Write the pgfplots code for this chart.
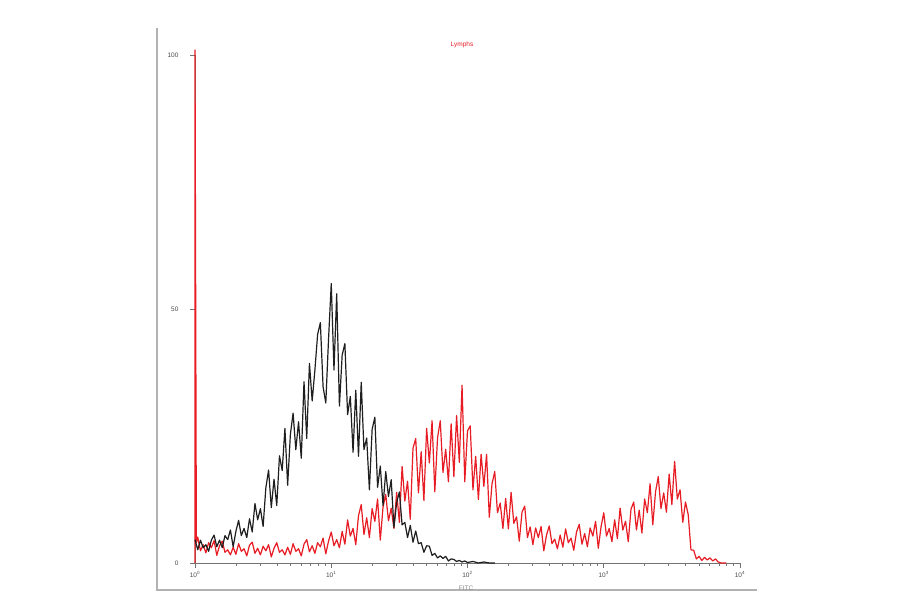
\documentclass[border=0pt]{standalone}
\usepackage{pgfplots}
\pgfplotsset{compat=1.18}
\usepackage{fontspec}
\setmainfont{Liberation Sans}

% black histogram (x = log10 of channel, y = % of max)
\newcommand{\blackdata}{
(0.00,4.6) (0.02,2.6) (0.04,4.5) (0.06,3.0) (0.08,3.6) (0.10,2.3) (0.12,4.5)
(0.14,5.5) (0.16,3.2) (0.18,4.5) (0.20,3.0) (0.22,5.4) (0.24,4.6) (0.26,6.5)
(0.28,3.2) (0.30,6.2) (0.32,8.4) (0.34,5.4) (0.36,6.8) (0.38,5.0) (0.40,8.7)
(0.42,6.1) (0.44,11.7) (0.46,8.5) (0.48,10.7) (0.50,7.2) (0.52,14.8) (0.54,18.3)
(0.56,10.9) (0.58,16.5) (0.60,11.3) (0.62,21.1) (0.64,18.2) (0.66,26.5) (0.68,15.3)
(0.70,25.3) (0.72,29.5) (0.74,22.3) (0.76,27.8) (0.78,20.6) (0.80,35.7) (0.82,24.5)
(0.84,39.3) (0.86,31.9) (0.88,38.0) (0.90,45.0) (0.92,47.3) (0.94,34.7) (0.96,31.5)
(0.98,44.0) (1.00,55.0) (1.02,38.0) (1.04,53.0) (1.06,30.9) (1.08,40.9) (1.10,43.2)
(1.12,29.2) (1.14,32.8) (1.16,21.8) (1.18,34.0) (1.20,21.0) (1.22,35.6) (1.24,22.3)
(1.26,24.6) (1.28,14.4) (1.30,26.3) (1.32,28.7) (1.34,14.9) (1.36,19.1) (1.38,11.3)
(1.40,18.0) (1.42,13.1) (1.44,16.4) (1.46,7.0) (1.48,11.9) (1.50,14.0) (1.52,7.5)
(1.54,8.0) (1.56,5.0) (1.58,7.4) (1.60,4.1) (1.62,6.3) (1.64,3.8) (1.66,4.0)
(1.68,2.1) (1.70,3.4) (1.72,3.3) (1.74,1.5) (1.76,1.9) (1.78,1.0) (1.80,1.4)
(1.82,0.9) (1.84,1.3) (1.86,0.4) (1.88,0.8) (1.90,0.7) (1.92,0.3) (1.94,0.5)
(1.96,0.2) (1.98,0.4) (2.00,0.1) (2.04,0.3) (2.08,0.0) (2.12,0.2) (2.16,0.0)
(2.20,0.0)
}

% red histogram
\newcommand{\reddata}{
(0.00,0) (0.00,101) (0.01,4.0)
(0.02,5.1) (0.04,2.4) (0.06,3.6) (0.08,2.0) (0.10,4.0) (0.12,3.0) (0.14,4.4)
(0.16,1.5) (0.18,3.4) (0.20,4.3) (0.22,2.1) (0.24,2.6) (0.26,1.6) (0.28,3.1)
(0.30,1.7) (0.32,3.8) (0.34,2.3) (0.36,2.8) (0.38,1.4) (0.40,3.5) (0.42,4.1)
(0.44,1.9) (0.46,2.9) (0.48,1.6) (0.50,3.3) (0.52,2.4) (0.54,3.6) (0.56,1.2)
(0.58,2.9) (0.60,4.0) (0.62,2.1) (0.64,2.6) (0.66,1.6) (0.68,3.1) (0.70,1.7)
(0.72,3.8) (0.74,2.3) (0.76,2.8) (0.78,1.4) (0.80,3.7) (0.82,4.6) (0.84,2.2)
(0.86,3.4) (0.88,1.9) (0.90,4.0) (0.92,3.2) (0.94,4.9) (0.96,1.8) (0.98,4.3)
(1.00,6.1) (1.02,3.4) (1.04,4.6) (1.06,3.0) (1.08,6.2) (1.10,3.7) (1.12,8.5)
(1.14,5.3) (1.16,6.8) (1.18,3.6) (1.20,9.3) (1.22,11.5) (1.24,5.6) (1.26,8.9)
(1.28,5.0) (1.30,10.7) (1.32,8.2) (1.34,12.6) (1.36,4.5) (1.38,11.0) (1.40,13.5)
(1.42,8.3) (1.44,10.8) (1.46,6.8) (1.48,13.9) (1.50,8.0) (1.52,19.0) (1.54,12.2)
(1.56,16.1) (1.58,8.6) (1.60,22.6) (1.62,24.5) (1.64,13.8) (1.66,21.9) (1.68,12.3)
(1.70,26.5) (1.72,19.7) (1.74,28.0) (1.76,14.0) (1.78,24.6) (1.80,28.0) (1.82,17.8)
(1.84,22.4) (1.86,16.0) (1.88,27.4) (1.90,17.0) (1.92,29.0) (1.94,19.8) (1.96,35.0)
(1.98,16.0) (2.00,26.0) (2.02,27.0) (2.04,14.4) (2.06,21.0) (2.08,12.5) (2.10,21.4)
(2.12,15.1) (2.14,21.4) (2.16,9.0) (2.18,15.6) (2.20,18.0) (2.22,9.9) (2.24,11.8)
(2.26,6.8) (2.28,12.7) (2.30,6.7) (2.32,13.9) (2.34,7.8) (2.36,9.1) (2.38,4.3)
(2.40,10.0) (2.42,11.2) (2.44,5.0) (2.46,7.1) (2.48,3.6) (2.50,6.9) (2.52,5.0)
(2.54,7.2) (2.56,2.4) (2.58,5.5) (2.60,7.3) (2.62,3.8) (2.64,4.7) (2.66,2.8)
(2.68,5.5) (2.70,3.1) (2.72,6.7) (2.74,4.0) (2.76,4.9) (2.78,2.5) (2.80,6.1)
(2.82,7.6) (2.84,3.7) (2.86,5.8) (2.88,3.2) (2.90,6.9) (2.92,5.3) (2.94,8.2)
(2.96,2.9) (2.98,7.1) (3.00,9.9) (3.02,5.3) (3.04,6.8) (3.06,4.2) (3.08,8.5)
(3.10,4.8) (3.12,10.8) (3.14,6.5) (3.16,8.2) (3.18,4.2) (3.20,10.6) (3.22,12.0)
(3.24,6.5) (3.26,10.4) (3.28,5.9) (3.30,12.6) (3.32,9.9) (3.34,15.6) (3.36,7.5)
(3.38,14.0) (3.40,17.0) (3.42,10.7) (3.44,13.8) (3.46,10.0) (3.48,17.5) (3.50,11.5)
(3.52,20.0) (3.54,12.6) (3.56,14.4) (3.58,8.0) (3.60,12.0) (3.62,9.5) (3.64,2.6)
(3.66,2.5) (3.68,0.8) (3.70,1.3) (3.72,0.5) (3.74,1.1) (3.76,0.6) (3.78,1.0)
(3.80,0.4) (3.82,0.8) (3.84,0.2) (3.86,0.0) (3.90,0.0)
}

\begin{document}
\begin{tikzpicture}[x=1pt,y=1pt]
\useasboundingbox (0,0) rectangle (900,594);
\fill[white] (0,0) rectangle (900,594);
% outer frame (left and bottom)
\draw[black!30, line width=1.5pt] (157,566) -- (157,4) -- (757,4);

\begin{axis}[
  at={(195pt,31pt)}, anchor=south west,
  scale only axis, width=545pt, height=508pt,
  xmin=0, xmax=4, ymin=0, ymax=100,
  clip=false,
  axis lines*=left,
  axis line style={black!55, line width=0.8pt},
  tick style={black!55, line width=0.6pt},
  tick align=outside,
  major tick length=5pt, minor tick length=3pt,
  xtick={0,1,2,3,4},
  xticklabels={10\textsuperscript{0},10\textsuperscript{1},10\textsuperscript{2},10\textsuperscript{3},10\textsuperscript{4}},
  minor xtick={0.301,0.477,0.602,0.699,0.778,0.845,0.903,0.954,
               1.301,1.477,1.602,1.699,1.778,1.845,1.903,1.954,
               2.301,2.477,2.602,2.699,2.778,2.845,2.903,2.954,
               3.301,3.477,3.602,3.699,3.778,3.845,3.903,3.954},
  ytick={0,50,100},
  yticklabels={0,50,100},
  tick label style={font=\fontsize{6.5}{7}\selectfont, text=black!70},
  yticklabel style={xshift=-8pt},
]
\addplot[color={rgb,255:red,232;green,28;blue,36}, line width=1.2pt, line join=round] coordinates {\reddata};
\addplot[color=black!88, line width=1.2pt, line join=round] coordinates {\blackdata};
\end{axis}

\node[text={rgb,255:red,232;green,28;blue,36}, font=\fontsize{6.5}{7}\selectfont] at (462,549) {Lymphs};
\node[text=black!45, font=\fontsize{6.5}{7}\selectfont] at (466,6) {FITC};
\end{tikzpicture}
\end{document}
